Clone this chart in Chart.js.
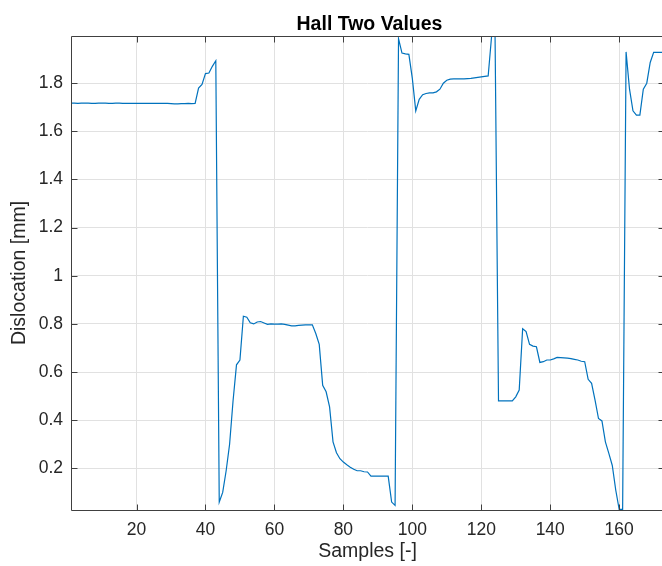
<!DOCTYPE html>
<html>
<head>
<meta charset="utf-8">
<script src="https://cdn.jsdelivr.net/npm/chart.js@4.4.1/dist/chart.umd.min.js"></script>
<style>
  html, body { margin: 0; padding: 0; background: #fff; overflow: hidden; }
  #wrap { width: 666px; height: 566px; }
</style>
</head>
<body>
<div id="wrap"><canvas id="hallChart" width="666" height="566"></canvas></div>
<script>
// Hall two readings, one value per sample
const hallValues = [
  1.717, 1.717, 1.716, 1.717, 1.717, 1.717, 1.716, 1.716, 1.717, 1.717,
  1.717, 1.716, 1.716, 1.717, 1.717, 1.716, 1.716, 1.716, 1.716, 1.716,
  1.716, 1.716, 1.716, 1.716, 1.716, 1.716, 1.716, 1.716, 1.716, 1.715,
  1.714, 1.714, 1.715, 1.715, 1.716, 1.715, 1.716, 1.780, 1.795, 1.840,
  1.842, 1.870, 1.893, 0.060, 0.100, 0.190, 0.300, 0.480, 0.630, 0.650,
  0.832, 0.828, 0.805, 0.800, 0.808, 0.810, 0.804, 0.798, 0.800, 0.799,
  0.799, 0.800, 0.798, 0.795, 0.792, 0.792, 0.794, 0.795, 0.796, 0.796,
  0.796, 0.760, 0.715, 0.545, 0.518, 0.455, 0.310, 0.265, 0.240, 0.226,
  0.215, 0.205, 0.196, 0.190, 0.190, 0.186, 0.185, 0.168, 0.168, 0.168,
  0.168, 0.168, 0.168, 0.060, 0.046, 1.985, 1.925, 1.922, 1.920, 1.820,
  1.685, 1.733, 1.752, 1.757, 1.760, 1.760, 1.764, 1.775, 1.800, 1.812,
  1.817, 1.818, 1.818, 1.818, 1.818, 1.819, 1.820, 1.822, 1.824, 1.826,
  1.828, 1.830, 1.996, 1.996, 0.480, 0.480, 0.480, 0.480, 0.480, 0.497,
  0.525, 0.780, 0.768, 0.715, 0.708, 0.705, 0.640, 0.643, 0.650, 0.650,
  0.655, 0.661, 0.660, 0.659, 0.658, 0.656, 0.653, 0.650, 0.645, 0.643,
  0.570, 0.553, 0.483, 0.407, 0.397, 0.310, 0.262, 0.212, 0.110, 0.030,
  0.030, 1.930, 1.775, 1.685, 1.667, 1.667, 1.775, 1.800, 1.886, 1.928,
  1.928, 1.928, 1.928
];
// sample numbers 1..N
const samples = hallValues.map((v, i) => i + 1);

const xTicks = [20, 40, 60, 80, 100, 120, 140, 160];
const yTicks = [0.2, 0.4, 0.6, 0.8, 1, 1.2, 1.4, 1.6, 1.8];
const xRange = [1, 173];
const yRange = [0.027, 1.996];

const chartTitle = "Hall Two Values";
const xTitle = "Samples [-]";
const yTitle = "Dislocation [mm]";

const FONT = "'Liberation Sans', Arial, Helvetica, sans-serif";
const TEXT = "#262626";
const AXIS = "#404040";
const GRID = "#e1e1e1";

// matlab-ish box, inward ticks and title
const matlabAxes = {
  id: "matlabAxes",
  afterDraw(chart) {
    const { ctx, chartArea: a, scales } = chart;
    const tl = 6;
    ctx.save();
    ctx.strokeStyle = AXIS;
    ctx.lineWidth = 1;
    const L = Math.round(a.left) + 0.5, R = Math.round(a.right) + 0.5;
    const T = Math.round(a.top) + 0.5, B = Math.round(a.bottom) + 0.5;
    ctx.beginPath();
    ctx.rect(L, T, R - L, B - T);
    for (const t of scales.x.ticks) {
      const px = Math.round(scales.x.getPixelForValue(t.value)) + 0.5;
      ctx.moveTo(px, B); ctx.lineTo(px, B - tl);
      ctx.moveTo(px, T); ctx.lineTo(px, T + tl);
    }
    for (const t of scales.y.ticks) {
      const py = Math.round(scales.y.getPixelForValue(t.value)) + 0.5;
      ctx.moveTo(L, py); ctx.lineTo(L + tl, py);
      ctx.moveTo(R, py); ctx.lineTo(R - tl, py);
    }
    ctx.stroke();

    ctx.fillStyle = "#000";
    ctx.font = "bold 19.5px " + FONT;
    ctx.textAlign = "center";
    ctx.textBaseline = "alphabetic";
    ctx.fillText(chartTitle, (a.left + a.right) / 2 + 2, 29.5);
    ctx.restore();
  }
};

const canvas = document.getElementById("hallChart").getContext("2d");

const hallChart = new Chart(canvas, {
  type: "line",
  data: {
    datasets: [
      {
        label: chartTitle,
        data: samples.map((s, i) => ({ x: s, y: hallValues[i] })),
        borderColor: "#0072BD",
        borderWidth: 1.2,
        pointRadius: 0,
        tension: 0,
        fill: false,
      },
    ],
  },
  options: {
    responsive: false,
    animation: false,
    devicePixelRatio: 1,
    layout: { padding: { top: 36, right: 2, left: 0, bottom: 0 } },
    plugins: {
      legend: { display: false },
      title: { display: false },
      tooltip: { enabled: false },
    },
    scales: {
      x: {
        type: "linear",
        min: xRange[0],
        max: xRange[1],
        afterBuildTicks: (s) => { s.ticks = xTicks.map((v) => ({ value: v })); },
        afterFit: (s) => { s.height = 56; },
        grid: { color: GRID, lineWidth: 1, drawTicks: false },
        border: { display: false },
        ticks: {
          color: TEXT,
          padding: 10,
          maxRotation: 0,
          font: { family: FONT, size: 17.5 },
          callback: (v) => String(v),
        },
        title: {
          display: true,
          text: xTitle,
          color: TEXT,
          font: { family: FONT, size: 19.5 },
          padding: { top: 0, bottom: 3 },
        },
      },
      y: {
        type: "linear",
        min: yRange[0],
        max: yRange[1],
        afterBuildTicks: (s) => { s.ticks = yTicks.map((v) => ({ value: v })); },
        afterFit: (s) => { s.width = 71; },
        grid: { color: GRID, lineWidth: 1, drawTicks: false },
        border: { display: false },
        ticks: {
          color: TEXT,
          padding: 8,
          font: { family: FONT, size: 17.5 },
          callback: (v) => String(v),
        },
        title: {
          display: true,
          text: yTitle,
          color: TEXT,
          font: { family: FONT, size: 19.5 },
          padding: { top: 8, bottom: 0 },
        },
      },
    },
  },
  plugins: [matlabAxes],
});
</script>
</body>
</html>
